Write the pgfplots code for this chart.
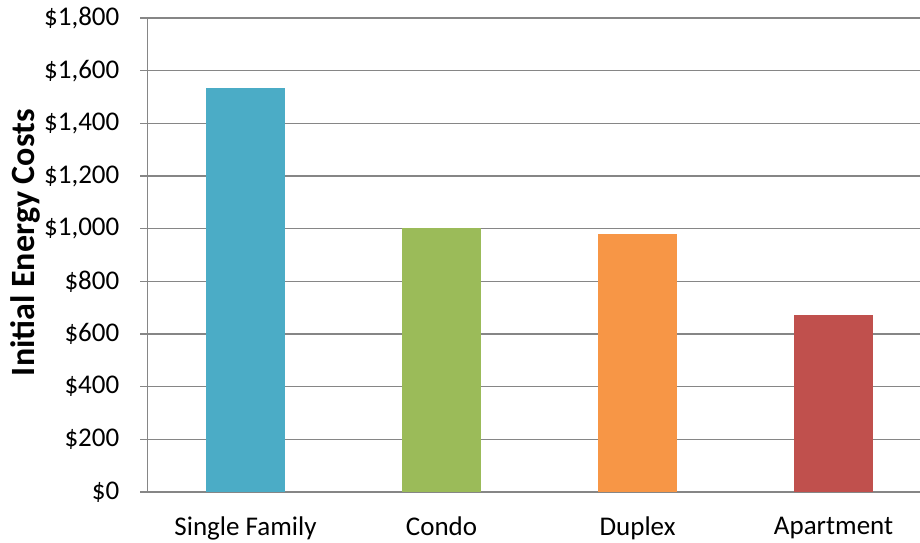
\documentclass[border=0pt]{standalone}
\usepackage{fontspec}
\setmainfont{Carlito}
\usepackage{pgfplots}
\pgfplotsset{compat=1.18}

\definecolor{gridgray}{HTML}{868686}
\definecolor{cSingle}{HTML}{4BACC6}
\definecolor{cCondo}{HTML}{9BBB59}
\definecolor{cDuplex}{HTML}{F79646}
\definecolor{cApart}{HTML}{C0504D}

\begin{document}
\begin{tikzpicture}[x=1pt,y=1pt]
\useasboundingbox (0,0) rectangle (920,542);
\begin{axis}[
  at={(147.5pt,50pt)}, anchor=south west,
  scale only axis,
  width=772.5pt, height=474pt,
  xmin=-0.5, xmax=3.441,
  ymin=0, ymax=1800,
  ytick={0,200,...,1800},
  xtick={0,1,2,3},
  xticklabels={Single Family, Condo, Duplex, Apartment},
  axis x line*=bottom,
  axis y line*=left,
  axis line style={gridgray, line width=1.5pt, -},
  ymajorgrids,
  major grid style={gridgray, line width=1.5pt},
  tick style={gridgray, line width=1.5pt},
  tick align=outside,
  major tick length=7pt,
  x tick style={draw=none},
  /pgf/number format/.cd, 1000 sep={,}, assume math mode=true,
  /pgfplots/.cd,
  yticklabel={\$\pgfmathprintnumber{\tick}},
  yticklabel style={font=\fontsize{27}{32}\selectfont, anchor=east, inner sep=0pt, xshift=-21pt},
  xticklabel style={font=\fontsize{27}{32}\selectfont, anchor=north, inner sep=0pt, yshift=-18pt},
  ylabel={Initial Energy Costs},
  ylabel style={font=\fontsize{34}{40}\selectfont\bfseries,
    at={(axis description cs:-0.158,0.526)}, anchor=center, rotate=0},
  clip=false,
]
\addplot[ybar, bar width=79pt, draw=none, fill=cSingle] coordinates {(0,1534)};
\addplot[ybar, bar width=79pt, draw=none, fill=cCondo] coordinates {(1,1002)};
\addplot[ybar, bar width=79pt, draw=none, fill=cDuplex] coordinates {(2,980)};
\addplot[ybar, bar width=79pt, draw=none, fill=cApart] coordinates {(3,672)};
\end{axis}
\end{tikzpicture}
\end{document}
